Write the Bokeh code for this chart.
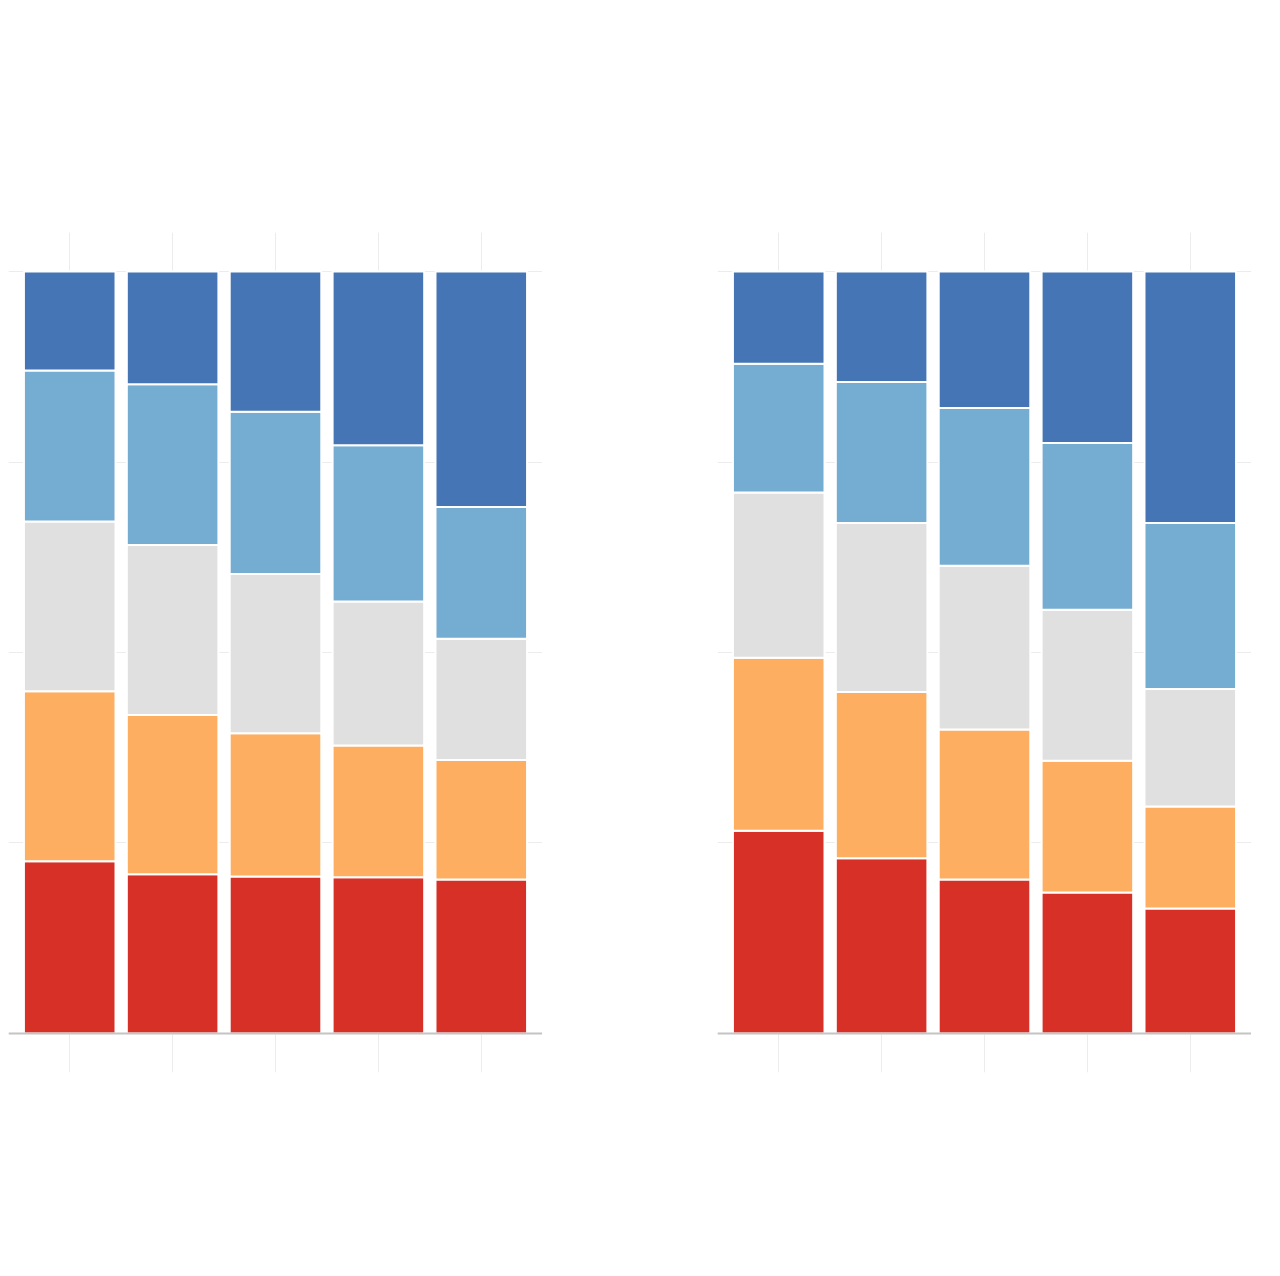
from bokeh.plotting import figure
from bokeh.layouts import row, Spacer
from bokeh.models import ColumnDataSource, FixedTicker, Range1d, Span
from bokeh.embed import file_html
from bokeh.resources import INLINE

x_positions = [0, 1, 2, 3, 4]
segments = ["red", "orange", "grey", "lightblue", "darkblue"]
colors = ["#d73027", "#fdae61", "#e0e0e0", "#74add1", "#4575b4"]

# Left panel (percent shares, bottom to top)
left_red = [22.6, 20.9, 20.6, 20.5, 20.2]
left_orange = [22.3, 20.9, 18.8, 17.3, 15.7]
left_grey = [22.3, 22.3, 20.9, 18.9, 15.9]
left_lightblue = [19.8, 21.1, 21.3, 20.5, 17.3]
left_darkblue = [13.0, 14.8, 18.4, 22.8, 30.9]

# Right panel
right_red = [26.6, 23.0, 20.2, 18.5, 16.4]
right_orange = [22.7, 21.8, 19.7, 17.3, 13.4]
right_grey = [21.7, 22.2, 21.5, 19.8, 15.4]
right_lightblue = [16.9, 18.5, 20.7, 21.9, 21.8]
right_darkblue = [12.1, 14.5, 17.9, 22.5, 33.0]

y_ticks = [0, 25, 50, 75, 100]


def make_panel(vals, left_border):
    src = ColumnDataSource(dict(x=x_positions, red=vals[0], orange=vals[1], grey=vals[2],
                                lightblue=vals[3], darkblue=vals[4]))
    p = figure(width=534 + left_border, height=1268, output_backend="svg", toolbar_location=None,
               x_range=Range1d(-0.595, 4.595), y_range=Range1d(-5.12, 105.12),
               min_border_left=left_border, min_border_right=0,
               min_border_top=232, min_border_bottom=196)
    p.xaxis.visible = False
    p.yaxis.visible = False
    p.outline_line_color = None
    p.xgrid.ticker = FixedTicker(ticks=x_positions)
    p.ygrid.ticker = FixedTicker(ticks=y_ticks)
    p.xgrid.grid_line_color = "#ececec"
    p.ygrid.grid_line_color = "#ececec"
    p.xgrid.grid_line_width = 1
    p.ygrid.grid_line_width = 1
    p.vbar_stack(segments, x="x", width=0.89, source=src, color=colors,
                 line_color="white", line_width=2)
    p.add_layout(Span(location=0, dimension="width", line_color="#c4c4c4",
                      line_width=2, level="overlay"))
    return p


p1 = make_panel([left_red, left_orange, left_grey, left_lightblue, left_darkblue], 8)
p2 = make_panel([right_red, right_orange, right_grey, right_lightblue, right_darkblue], 0)

layout = row(p1, Spacer(width=175, height=1268), p2)
open("out.html", "w").write(file_html(layout, INLINE))
